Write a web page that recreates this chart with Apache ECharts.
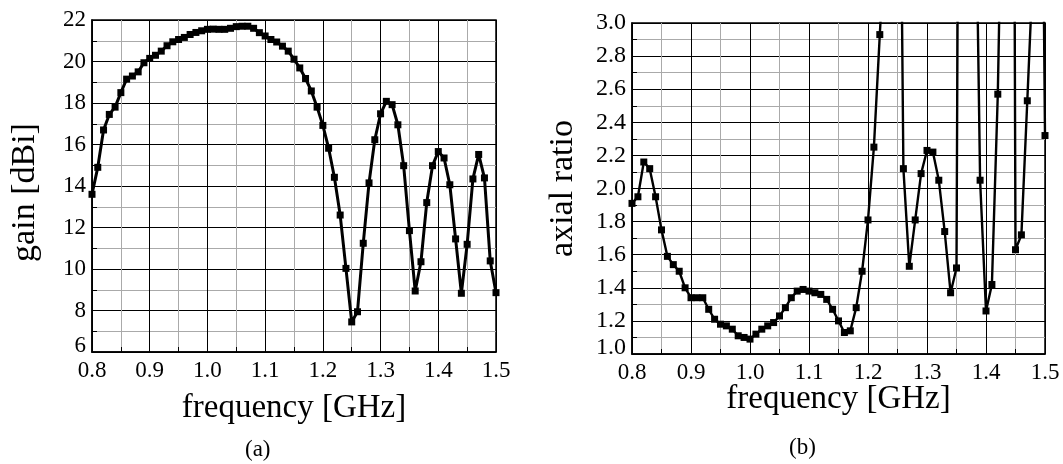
<!DOCTYPE html>
<html>
<head>
<meta charset="utf-8">
<script src="https://cdn.jsdelivr.net/npm/echarts@6/dist/echarts.min.js"></script>
<style>
  html, body { margin: 0; padding: 0; background: #fff; }
  #main { width: 1063px; height: 464px; }
</style>
</head>
<body>
<div id="main"></div>
<script>
// frequency points (GHz), one every 0.01
const freq = [
  0.80, 0.81, 0.82, 0.83, 0.84, 0.85, 0.86, 0.87, 0.88, 0.89,
  0.90, 0.91, 0.92, 0.93, 0.94, 0.95, 0.96, 0.97, 0.98, 0.99,
  1.00, 1.01, 1.02, 1.03, 1.04, 1.05, 1.06, 1.07, 1.08, 1.09,
  1.10, 1.11, 1.12, 1.13, 1.14, 1.15, 1.16, 1.17, 1.18, 1.19,
  1.20, 1.21, 1.22, 1.23, 1.24, 1.25, 1.26, 1.27, 1.28, 1.29,
  1.30, 1.31, 1.32, 1.33, 1.34, 1.35, 1.36, 1.37, 1.38, 1.39,
  1.40, 1.41, 1.42, 1.43, 1.44, 1.45, 1.46, 1.47, 1.48, 1.49,
  1.50
]

// (a) gain [dBi]
const gain = [
  13.6, 14.9, 16.7, 17.45, 17.8, 18.5, 19.15, 19.3, 19.5, 19.94,
  20.15, 20.3, 20.5, 20.76, 20.95, 21.06, 21.16, 21.3, 21.4, 21.48,
  21.55, 21.56, 21.55, 21.55, 21.6, 21.68, 21.7, 21.7, 21.6, 21.39,
  21.23, 21.06, 20.94, 20.74, 20.5, 20.11, 19.69, 19.18, 18.58, 17.8,
  16.92, 15.82, 14.42, 12.6, 10.03, 7.45, 7.94, 11.24, 14.15, 16.23,
  17.48, 18.08, 17.92, 16.95, 14.98, 11.85, 8.94, 10.35, 13.2, 14.98,
  15.66, 15.35, 14.06, 11.45, 8.83, 11.19, 14.34, 15.52, 14.39, 10.39,
  8.86
]

// (b) axial ratio (values above 3.0 run off the top of the plot)
const axialRatio = [
  1.91, 1.95, 2.16, 2.12, 1.95, 1.75, 1.59, 1.54, 1.50, 1.40,
  1.34, 1.34, 1.34, 1.27, 1.21, 1.18, 1.17, 1.15, 1.11, 1.10,
  1.09, 1.12, 1.15, 1.17, 1.19, 1.23, 1.28, 1.34, 1.38, 1.39,
  1.38, 1.37, 1.36, 1.33, 1.27, 1.20, 1.13, 1.14, 1.28, 1.50,
  1.81, 2.25, 2.93, 3.6, 8, 6, 2.12, 1.53, 1.81, 2.09,
  2.23, 2.22, 2.05, 1.74, 1.37, 1.52, 10, 8, 4.5, 2.05,
  1.26, 1.42, 2.57, 4.5, 12, 1.63, 1.72, 2.53, 3.36, 6.3,
  2.32
]

const xTicks = { min: 0.8, max: 1.5, interval: 0.1 }
const gainTicks = { min: 6, max: 22, interval: 2 }
const arTicks = { min: 1.0, max: 3.0, interval: 0.2 }

const FONT = 'Liberation Serif'

function pairs(ys) {
  return freq.map((f, i) => [f, ys[i]])
}

function xAxisOf(gridIndex, nameGap) {
  return {
    type: 'value',
    gridIndex: gridIndex,
    min: xTicks.min,
    max: xTicks.max,
    interval: xTicks.interval,
    name: 'frequency [GHz]',
    nameLocation: 'middle',
    nameGap: nameGap,
    nameMoveOverlap: false,
    nameTextStyle: { fontFamily: FONT, fontSize: 33, color: '#000' },
    axisLine: { show: true, onZero: false, lineStyle: { color: '#000', width: 1.5 } },
    axisTick: { show: true, inside: true, length: 5, lineStyle: { color: '#000' } },
    minorTick: { show: true, splitNumber: 2, length: 5, lineStyle: { color: '#000' } },
    axisLabel: {
      fontFamily: FONT, fontSize: 23, color: '#000', margin: 7,
      formatter: v => v.toFixed(1)
    },
    splitLine: { show: true, lineStyle: { color: '#000', width: 1 } },
    minorSplitLine: { show: true, lineStyle: { color: '#aaa', width: 1 } }
  }
}

function yAxisOf(gridIndex, ticks, name, nameGap, digits, labelSize, namePad) {
  return {
    type: 'value',
    gridIndex: gridIndex,
    min: ticks.min,
    max: ticks.max,
    interval: ticks.interval,
    name: name,
    nameLocation: 'middle',
    nameGap: nameGap,
    nameMoveOverlap: false,
    nameTextStyle: { fontFamily: FONT, fontSize: 34, color: '#000', padding: namePad },
    axisLine: { show: true, onZero: false, lineStyle: { color: '#000', width: 1.5 } },
    axisTick: { show: true, inside: true, length: 5, lineStyle: { color: '#000' } },
    minorTick: { show: true, splitNumber: 2, length: 5, lineStyle: { color: '#000' } },
    axisLabel: {
      fontFamily: FONT, fontSize: labelSize, color: '#000', margin: 6,
      // lowest label sits a little higher so it clears the x labels
      formatter: v => {
        const s = v.toFixed(digits)
        return Math.abs(v - ticks.min) < 1e-9 ? '{lo|' + s + '}' : s
      },
      rich: {
        lo: { fontFamily: FONT, fontSize: labelSize, color: '#000', padding: [0, 0, 12, 0] }
      }
    },
    splitLine: { show: true, lineStyle: { color: '#000', width: 1 } },
    minorSplitLine: { show: true, lineStyle: { color: '#aaa', width: 1 } }
  }
}

const chart = echarts.init(document.getElementById('main'))

chart.setOption({
  backgroundColor: '#fff',
  animation: false,
  grid: [
    { left: 92, top: 20, width: 404, height: 332, show: true, borderColor: '#000', borderWidth: 1.5 },
    { left: 632, top: 23, width: 413, height: 331, show: true, borderColor: '#000', borderWidth: 1.5 }
  ],
  xAxis: [
    xAxisOf(0, 40),
    xAxisOf(1, 29)
  ],
  yAxis: [
    yAxisOf(0, gainTicks, 'gain [dBi]', 50, 0, 23, [0, 13, 0, 0]),
    yAxisOf(1, arTicks, 'axial ratio', 52, 1, 24, 0)
  ],
  graphic: [
    {
      type: 'text', left: 259 - 14, top: 438,
      style: { text: '(a)', fontFamily: FONT, fontSize: 23, fill: '#000' }
    },
    {
      type: 'text', left: 803 - 14, top: 436,
      style: { text: '(b)', fontFamily: FONT, fontSize: 23, fill: '#000' }
    }
  ],
  series: [
    {
      name: 'gain',
      type: 'line',
      xAxisIndex: 0,
      yAxisIndex: 0,
      data: pairs(gain),
      symbol: 'rect',
      symbolSize: 7,
      clip: true,
      lineStyle: { color: '#000', width: 3 },
      itemStyle: { color: '#000' }
    },
    {
      name: 'axial ratio',
      type: 'line',
      xAxisIndex: 1,
      yAxisIndex: 1,
      data: pairs(axialRatio),
      symbol: 'rect',
      symbolSize: 7,
      clip: true,
      lineStyle: { color: '#000', width: 2.4 },
      itemStyle: { color: '#000' }
    }
  ]
})
</script>
</body>
</html>
